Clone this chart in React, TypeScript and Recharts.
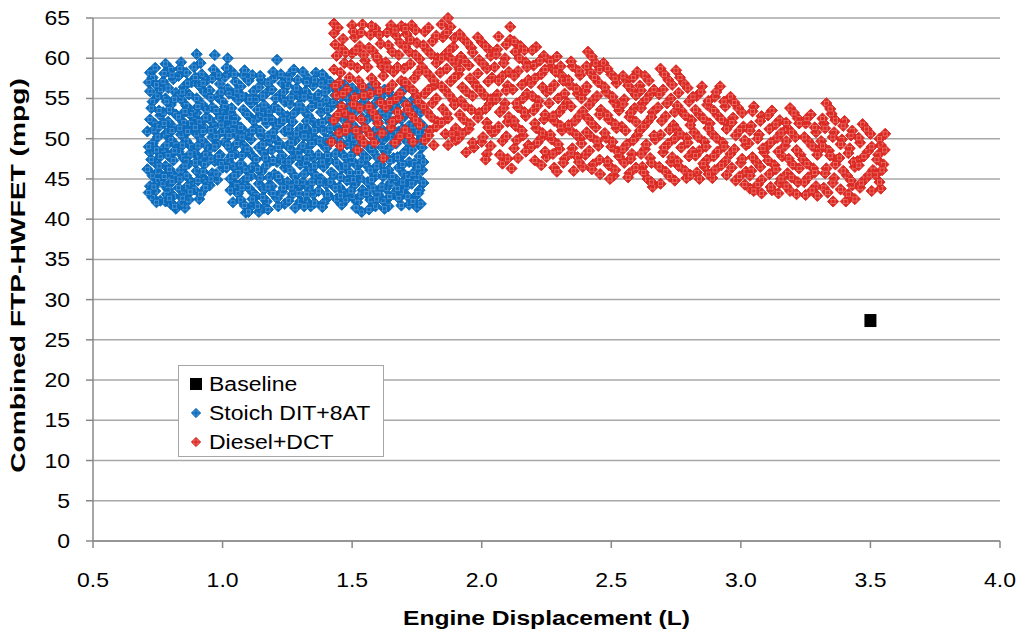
import React from 'react';
import { ScatterChart, Scatter, XAxis, YAxis, CartesianGrid } from 'recharts';

const xTicks = [0.5, 1.0, 1.5, 2.0, 2.5, 3.0, 3.5, 4.0];
const yTicks = [0, 5, 10, 15, 20, 25, 30, 35, 40, 45, 50, 55, 60, 65];

const baselinePoints: [number, number][] = [[3.5, 27.4]];

const stoichPointsA: [number, number][] = [
  [0.72,58.2],[0.73,57.6],[0.74,58.8],[0.72,55.9],[0.75,55.3],[0.73,54.6],[0.76,56.1],[0.72,52.4],[0.74,51.8],[0.71,50.9],[0.75,50.2],[0.73,49.4],[0.72,48.3],[0.76,47.8],[0.74,47.0],[0.71,46.2],[0.73,45.4],[0.75,44.8],[0.72,44.1],[0.74,43.5],[0.73,42.7],[0.76,42.3],[0.75,45.9],[0.76,52.9],
  [0.78,59.3],[0.8,58.6],[0.77,57.1],[0.81,57.4],[0.79,56.3],[0.82,55.7],[0.78,55.0],[0.8,54.2],[0.77,53.3],[0.82,53.0],[0.79,52.1],[0.81,51.4],[0.78,50.6],[0.8,49.9],[0.82,49.2],[0.77,48.7],[0.79,47.9],[0.81,47.3],[0.78,46.6],[0.8,45.8],[0.82,45.2],[0.77,44.4],[0.79,43.7],[0.81,42.9],[0.78,42.2],[0.82,41.3],[0.8,41.9],[0.79,50.8],
  [0.84,59.5],[0.86,58.2],[0.83,57.8],[0.88,57.0],[0.85,56.4],[0.87,55.5],[0.84,54.9],[0.86,54.1],[0.88,53.4],[0.83,52.7],[0.85,52.0],[0.87,51.2],[0.84,50.5],[0.86,49.7],[0.88,49.0],[0.83,48.4],[0.85,47.6],[0.87,46.9],[0.84,46.1],[0.86,45.4],[0.88,44.6],[0.83,43.9],[0.85,43.1],[0.87,42.4],[0.855,41.4],[0.84,41.9],[0.88,51.9],[0.86,47.2],
  [0.9,60.5],[0.89,58.9],[0.92,58.0],[0.94,57.3],[0.91,56.6],[0.93,55.8],[0.9,55.0],[0.92,54.3],[0.94,53.6],[0.89,52.8],[0.91,52.1],[0.93,51.3],[0.9,50.6],[0.92,49.8],[0.94,49.1],[0.89,48.3],[0.91,47.6],[0.93,46.8],[0.9,46.0],[0.92,45.3],[0.94,44.5],[0.91,42.5],[0.89,43.7],[0.93,47.9],[0.9,53.2],
  [0.97,60.4],[0.96,57.5],[0.99,56.8],[0.95,56.0],[0.98,55.2],[1.0,54.6],[0.96,53.9],[0.99,53.1],[0.95,52.4],[0.97,51.6],[1.0,50.9],[0.96,50.2],[0.98,49.4],[0.95,48.7],[0.99,48.0],[0.97,47.2],[1.0,46.4],[0.96,45.7],[0.98,44.9],[0.95,44.2],[0.99,52.6],[0.97,49.0],
  [1.02,60.0],[1.03,58.5],[1.01,57.7],[1.05,57.1],[1.02,56.2],[1.04,55.5],[1.06,54.8],[1.01,54.0],[1.03,53.3],[1.05,52.5],[1.02,51.8],[1.04,51.0],[1.06,50.3],[1.01,49.6],[1.03,48.8],[1.05,48.1],[1.02,47.3],[1.04,46.6],[1.06,45.8],[1.03,45.0],[1.05,44.3],[1.06,43.2],[1.04,42.1],[1.02,49.2],
  [1.08,57.9],[1.1,57.2],[1.07,56.5],[1.12,55.9],[1.09,55.1],[1.11,54.4],[1.08,53.6],[1.1,52.9],[1.12,52.2],[1.07,51.4],[1.09,50.7],[1.11,49.9],[1.08,49.2],[1.1,48.4],[1.12,47.7],[1.07,46.9],[1.09,46.2],[1.11,45.4],[1.08,44.7],[1.1,43.9],[1.12,43.2],[1.09,40.8],[1.11,41.6],[1.07,42.4],[1.1,50.5],
  [1.15,57.3],[1.14,56.4],[1.17,55.7],[1.13,54.9],[1.16,54.2],[1.18,53.4],[1.14,52.7],[1.17,51.9],[1.13,51.2],[1.15,50.4],[1.18,49.7],[1.14,48.9],[1.16,48.2],[1.13,47.4],[1.17,46.7],[1.15,45.9],[1.18,45.2],[1.14,44.4],[1.16,43.7],[1.13,42.9],[1.17,42.2],[1.14,40.9],[1.16,41.4],[1.15,53.0],
  [1.21,59.8],[1.2,57.6],[1.23,56.9],[1.19,56.1],[1.22,55.4],[1.24,54.6],[1.2,53.9],[1.23,53.1],[1.19,52.4],[1.21,51.6],[1.24,50.9],[1.2,50.1],[1.22,49.4],[1.19,48.6],[1.23,47.9],[1.21,47.1],[1.24,46.4],[1.2,45.6],[1.22,44.9],[1.19,44.1],[1.23,43.4],[1.21,42.6],[1.24,41.9],[1.22,52.0],
  [1.26,58.0],[1.29,57.3],[1.25,56.6],[1.28,55.8],[1.3,55.1],[1.26,54.3],[1.29,53.6],[1.25,52.8],[1.27,52.1],[1.3,51.3],[1.26,50.6],[1.28,49.8],[1.25,49.1],[1.29,48.3],[1.27,47.6],[1.3,46.8],[1.26,46.1],[1.28,45.3],[1.25,44.6],[1.29,43.8],[1.27,43.1],[1.28,41.4],[1.3,42.2],[1.26,48.8],
  [1.31,58.3],[1.36,58.2],[1.33,57.5],[1.35,56.6],[1.32,55.9],[1.34,55.1],[1.36,54.4],[1.31,53.6],[1.33,52.9],[1.35,52.1],[1.32,51.4],[1.34,50.6],[1.36,49.9],[1.31,49.1],[1.33,48.4],[1.35,47.6],[1.32,46.9],[1.34,46.1],[1.36,45.4],[1.31,44.6],[1.33,43.9],[1.35,43.1],[1.32,42.4],[1.34,41.6],[1.33,50.2],
  [1.39,57.8],[1.38,56.9],[1.41,56.3],[1.37,55.5],[1.4,54.8],[1.42,54.0],[1.38,53.3],[1.41,52.5],[1.37,51.8],[1.39,51.0],[1.42,50.3],[1.38,49.5],[1.4,48.8],[1.37,48.0],[1.41,47.3],[1.39,46.5],[1.42,45.8],[1.38,45.0],[1.4,44.3],[1.37,43.5],[1.41,42.8],[1.39,42.0],[1.4,49.9],
  [1.47,56.7],[1.44,56.0],[1.46,55.2],[1.43,54.5],[1.48,53.8],[1.45,53.0],[1.47,52.3],[1.44,51.5],[1.46,50.8],[1.43,50.0],[1.48,49.3],[1.45,48.5],[1.47,47.8],[1.44,47.0],[1.46,46.3],[1.43,45.5],[1.48,44.8],[1.45,44.0],[1.47,43.3],[1.44,42.5],[1.46,41.8],[1.45,51.0],
  [1.5,56.3],[1.52,55.6],[1.49,54.8],[1.53,54.1],[1.51,53.3],[1.54,52.6],[1.5,51.8],[1.52,51.1],[1.49,50.3],[1.53,49.6],[1.51,48.8],[1.54,48.1],[1.5,47.3],[1.52,46.6],[1.49,45.8],[1.53,45.1],[1.51,44.3],[1.54,43.6],[1.5,42.8],[1.52,42.1],[1.537,40.9],[1.51,49.7],
  [1.57,55.9],[1.55,55.0],[1.59,54.4],[1.56,53.6],[1.58,52.9],[1.6,52.1],[1.55,51.4],[1.57,50.6],[1.59,49.9],[1.56,49.1],[1.58,48.4],[1.6,47.6],[1.55,46.9],[1.57,46.1],[1.59,45.4],[1.56,44.6],[1.58,43.9],[1.6,43.1],[1.57,42.4],[1.59,41.6],[1.58,50.3],
  [1.61,55.2],[1.64,55.8],[1.62,54.3],[1.65,53.6],[1.63,52.8],[1.66,52.1],[1.61,51.3],[1.64,50.6],[1.62,49.8],[1.65,49.1],[1.63,48.3],[1.66,47.6],[1.61,46.8],[1.64,46.1],[1.62,45.3],[1.65,44.6],[1.63,43.8],[1.66,43.1],[1.62,42.3],[1.64,41.6],[1.63,50.4],
  [1.68,55.5],[1.7,54.6],[1.67,53.9],[1.71,53.1],[1.69,52.4],[1.72,51.6],[1.68,50.9],[1.7,50.1],[1.67,49.4],[1.71,48.6],[1.69,47.9],[1.72,47.1],[1.68,46.4],[1.7,45.6],[1.67,44.9],[1.71,44.1],[1.69,43.4],[1.72,41.8],[1.68,42.6],[1.7,48.2],
  [1.74,55.0],[1.75,53.8],[1.73,52.9],[1.76,52.0],[1.74,51.2],[1.77,50.3],[1.75,49.5],[1.73,48.6],[1.76,47.8],[1.74,46.9],[1.77,46.1],[1.75,45.2],[1.73,44.4],[1.76,43.6],[1.74,42.7],[1.75,41.5],[1.77,48.9],
];

const stoichPointsB: [number, number][] = [
  [0.715,57.0],[0.745,56.7],[0.725,53.8],[0.755,53.5],[0.735,51.1],[0.715,49.0],[0.745,48.6],[0.725,47.4],[0.755,46.6],[0.735,44.0],[0.715,43.3],[0.745,42.1],[0.755,51.5],
  [0.775,58.1],[0.805,57.9],[0.785,54.6],[0.815,54.9],[0.795,53.6],[0.775,51.9],[0.805,51.0],[0.785,49.2],[0.815,48.5],[0.795,46.2],[0.775,45.3],[0.805,44.7],[0.785,43.1],[0.815,41.6],[0.795,42.6],
  [0.835,58.7],[0.865,56.9],[0.845,55.8],[0.875,53.0],[0.855,53.4],[0.835,51.3],[0.865,50.9],[0.845,49.2],[0.875,48.1],[0.855,46.6],[0.835,45.0],[0.865,44.1],[0.845,42.6],[0.875,43.4],
  [0.915,59.4],[0.895,57.6],[0.925,56.9],[0.905,54.0],[0.935,52.6],[0.895,51.4],[0.925,50.9],[0.905,49.1],[0.935,48.0],[0.895,47.0],[0.925,45.9],[0.905,44.8],[0.935,43.9],[0.915,43.1],
  [0.965,58.6],[0.985,57.9],[0.955,55.1],[0.995,55.8],[0.975,53.5],[0.955,51.0],[0.995,51.7],[0.975,50.3],[0.955,47.5],[0.995,46.9],[0.975,45.6],[0.955,45.0],[0.985,47.8],
  [1.015,58.8],[1.045,58.0],[1.025,55.6],[1.055,55.9],[1.035,53.8],[1.015,52.6],[1.045,52.0],[1.025,50.4],[1.055,49.4],[1.035,47.9],[1.015,46.4],[1.045,45.4],[1.055,44.2],[1.03,43.6],
  [1.085,58.5],[1.115,57.9],[1.075,55.3],[1.105,54.9],[1.095,53.0],[1.075,50.2],[1.115,51.0],[1.095,48.7],[1.075,47.9],[1.115,46.5],[1.095,45.1],[1.075,43.9],[1.115,42.5],[1.085,41.7],[1.1,40.9],
  [1.145,57.8],[1.175,56.9],[1.155,55.3],[1.135,53.6],[1.165,52.4],[1.145,51.0],[1.175,50.3],[1.155,49.3],[1.135,46.2],[1.165,47.6],[1.145,45.1],[1.175,44.0],[1.155,42.7],[1.135,41.6],[1.175,41.2],
  [1.195,58.3],[1.225,58.0],[1.205,55.0],[1.235,55.8],[1.215,53.6],[1.195,50.8],[1.235,52.3],[1.215,48.9],[1.195,47.3],[1.235,47.1],[1.215,45.3],[1.195,43.2],[1.235,43.9],[1.215,41.6],
  [1.275,58.6],[1.255,57.4],[1.285,56.3],[1.265,55.1],[1.295,54.2],[1.275,53.1],[1.255,51.2],[1.285,50.6],[1.265,49.5],[1.295,47.7],[1.255,47.1],[1.285,44.6],[1.265,44.0],[1.295,43.2],[1.255,42.3],
  [1.325,57.0],[1.355,57.3],[1.315,55.2],[1.345,54.0],[1.325,52.2],[1.355,51.0],[1.315,50.3],[1.345,49.4],[1.325,47.5],[1.355,46.6],[1.315,45.6],[1.345,44.6],[1.325,43.1],[1.355,42.0],[1.315,41.6],
  [1.385,58.0],[1.415,57.1],[1.395,55.8],[1.375,54.2],[1.405,53.6],[1.385,52.0],[1.415,51.3],[1.375,49.7],[1.405,47.9],[1.385,47.1],[1.415,44.6],[1.375,44.6],[1.405,43.1],[1.385,41.5],
  [1.455,56.8],[1.435,55.4],[1.475,55.3],[1.455,54.1],[1.435,52.6],[1.475,51.1],[1.455,49.6],[1.435,48.1],[1.475,46.6],[1.455,45.2],[1.435,43.9],[1.475,42.4],[1.455,42.9],
  [1.505,55.4],[1.535,56.0],[1.515,54.2],[1.495,52.6],[1.525,50.9],[1.505,50.1],[1.535,47.1],[1.495,47.9],[1.525,45.8],[1.505,44.9],[1.535,43.0],[1.495,43.5],[1.515,41.4],
  [1.565,56.3],[1.595,55.5],[1.575,53.9],[1.555,52.3],[1.595,51.2],[1.575,48.9],[1.555,47.6],[1.595,46.6],[1.575,44.9],[1.555,43.2],[1.595,42.5],[1.565,41.2],
  [1.625,56.1],[1.655,54.9],[1.615,53.4],[1.645,52.0],[1.625,50.7],[1.655,50.2],[1.615,48.9],[1.645,47.3],[1.625,45.9],[1.655,45.3],[1.615,44.0],[1.645,42.8],[1.625,41.3],
  [1.695,56.0],[1.675,54.7],[1.715,54.2],[1.695,51.2],[1.675,50.6],[1.715,49.6],[1.695,46.8],[1.675,47.7],[1.715,45.3],[1.695,44.6],[1.675,43.8],[1.715,42.8],[1.69,41.7],
  [1.745,54.5],[1.765,53.3],[1.735,51.6],[1.775,51.5],[1.755,50.8],[1.735,49.6],[1.775,47.1],[1.755,46.5],[1.735,45.7],[1.775,44.5],[1.755,43.2],[1.735,42.2],[1.765,41.9],
];

const dieselPointsA: [number, number][] = [
  [1.43,64.3],[1.43,63.1],[1.46,61.2],[1.44,60.3],[1.47,59.4],[1.43,58.6],[1.45,57.0],[1.48,56.1],[1.44,55.4],[1.46,54.0],[1.43,52.3],[1.47,53.2],[1.45,50.7],[1.42,49.6],[1.48,51.6],
  [1.5,64.1],[1.54,64.2],[1.51,62.6],[1.53,61.5],[1.5,60.6],[1.55,59.7],[1.52,58.8],[1.49,57.6],[1.54,56.5],[1.51,55.1],[1.53,53.8],[1.5,52.6],[1.55,51.3],[1.53,50.2],[1.52,48.6],
  [1.59,63.7],[1.57,62.9],[1.61,61.8],[1.58,60.9],[1.6,59.8],[1.56,58.9],[1.62,57.8],[1.59,56.8],[1.57,55.6],[1.61,54.5],[1.58,53.3],[1.6,51.9],[1.57,50.5],[1.62,47.6],
  [1.65,64.1],[1.69,64.0],[1.67,62.8],[1.64,61.6],[1.68,60.4],[1.63,59.5],[1.66,58.3],[1.69,57.2],[1.64,56.1],[1.67,55.0],[1.63,53.9],[1.68,52.6],[1.65,51.4],[1.665,49.5],
  [1.73,64.1],[1.71,63.0],[1.75,61.9],[1.72,60.8],[1.76,59.9],[1.7,58.7],[1.74,57.5],[1.72,56.4],[1.75,55.3],[1.71,54.2],[1.73,53.0],[1.76,51.7],[1.72,50.4],
  [1.78,63.3],[1.81,62.1],[1.79,61.0],[1.83,60.0],[1.77,58.9],[1.8,57.8],[1.82,56.7],[1.78,55.6],[1.81,54.4],[1.79,53.3],[1.83,52.1],[1.8,51.0],[1.78,49.8],
  [1.87,65.0],[1.88,63.9],[1.85,62.6],[1.89,61.4],[1.86,60.5],[1.9,59.3],[1.84,58.2],[1.88,57.1],[1.86,56.0],[1.89,54.8],[1.85,53.7],[1.87,52.5],[1.9,51.3],[1.9,49.8],[1.86,50.6],
  [1.93,62.4],[1.96,61.3],[1.92,60.2],[1.95,59.1],[1.91,58.0],[1.97,57.0],[1.94,55.9],[1.92,54.7],[1.96,53.6],[1.93,52.4],[1.95,51.2],[1.91,50.0],[1.97,48.9],
  [2.0,62.0],[2.03,61.0],[1.99,59.8],[2.02,58.7],[2.04,57.6],[1.98,56.5],[2.01,55.4],[2.03,54.3],[1.99,53.2],[2.02,52.0],[2.04,50.8],[2.0,49.6],[2.02,48.1],
  [2.11,63.9],[2.11,62.3],[2.06,61.1],[2.09,60.0],[2.05,58.9],[2.08,57.8],[2.1,56.6],[2.06,55.5],[2.09,54.4],[2.07,53.3],[2.1,52.1],[2.05,50.9],[2.08,49.7],[2.08,46.9],[2.115,46.3],
  [2.15,61.5],[2.13,60.8],[2.17,59.5],[2.14,58.4],[2.18,57.3],[2.12,56.1],[2.16,55.0],[2.14,53.9],[2.17,52.8],[2.13,51.6],[2.16,50.4],[2.18,49.2],[2.14,47.6],
  [2.21,61.4],[2.24,60.3],[2.2,59.1],[2.23,58.0],[2.19,56.9],[2.25,55.8],[2.22,54.7],[2.2,53.5],[2.24,52.4],[2.21,51.3],[2.23,50.1],[2.19,48.9],[2.25,47.7],
  [2.29,60.2],[2.27,58.9],[2.31,57.8],[2.28,56.7],[2.32,55.6],[2.26,54.4],[2.3,53.3],[2.28,52.2],[2.31,51.0],[2.27,49.9],[2.3,48.7],[2.32,47.5],[2.28,46.4],
  [2.35,59.0],[2.38,57.9],[2.34,56.7],[2.37,55.6],[2.33,54.5],[2.39,53.4],[2.36,52.2],[2.34,51.1],[2.38,50.0],[2.35,48.8],[2.37,47.7],[2.39,46.5],
  [2.41,60.8],[2.44,59.4],[2.42,58.2],[2.45,57.0],[2.4,55.9],[2.43,54.8],[2.46,53.6],[2.41,52.5],[2.44,51.4],[2.42,50.3],[2.45,49.1],[2.4,48.0],[2.43,46.8],[2.457,45.6],
  [2.47,59.4],[2.5,58.0],[2.52,56.9],[2.48,55.8],[2.51,54.6],[2.53,53.5],[2.49,52.4],[2.52,51.3],[2.48,50.1],[2.5,49.0],[2.53,47.8],[2.49,46.7],[2.51,45.4],
  [2.6,58.3],[2.56,57.2],[2.58,56.0],[2.55,54.9],[2.59,53.8],[2.57,52.7],[2.54,51.5],[2.6,50.4],[2.56,49.3],[2.58,48.1],[2.55,47.0],[2.57,45.7],
  [2.63,57.8],[2.61,56.6],[2.65,55.5],[2.62,54.4],[2.66,53.3],[2.64,52.1],[2.61,51.0],[2.67,49.9],[2.63,48.7],[2.65,47.6],[2.62,46.5],[2.64,45.0],[2.66,44.0],
  [2.69,58.7],[2.72,57.3],[2.7,56.1],[2.73,55.0],[2.68,53.9],[2.71,52.8],[2.74,51.7],[2.69,50.5],[2.72,49.4],[2.7,48.3],[2.73,47.1],[2.71,45.9],[2.69,44.4],
  [2.75,58.5],[2.78,56.9],[2.76,55.7],[2.8,54.6],[2.77,53.5],[2.81,52.3],[2.75,51.2],[2.79,50.1],[2.77,48.9],[2.8,47.8],[2.76,46.6],[2.79,45.1],
  [2.85,56.5],[2.83,55.3],[2.87,54.2],[2.84,53.0],[2.88,51.9],[2.82,50.8],[2.86,49.6],[2.84,48.5],[2.87,47.4],[2.86,46.5],[2.83,45.8],
  [2.92,56.5],[2.9,55.2],[2.94,54.0],[2.91,52.9],[2.95,51.8],[2.89,50.6],[2.93,49.5],[2.91,48.4],[2.94,47.2],[2.9,46.1],[2.89,45.1],
  [2.96,55.2],[2.99,53.8],[2.97,52.6],[3.01,51.5],[2.98,50.4],[3.02,49.2],[2.96,48.1],[3.0,47.0],[3.02,45.9],[2.98,44.8],
  [3.05,54.0],[3.08,52.8],[3.04,51.6],[3.07,50.5],[3.03,49.4],[3.09,48.3],[3.06,47.1],[3.04,46.0],[3.08,44.9],[3.035,43.8],[3.08,43.2],
  [3.12,53.5],[3.15,52.3],[3.11,51.2],[3.14,50.1],[3.1,49.0],[3.16,47.8],[3.13,46.7],[3.11,45.6],[3.15,44.5],[3.12,43.6],
  [3.19,53.8],[3.22,52.5],[3.18,51.3],[3.21,50.2],[3.17,49.1],[3.23,48.0],[3.2,46.8],[3.18,45.7],[3.22,44.6],[3.19,43.5],
  [3.27,53.0],[3.25,51.9],[3.29,50.8],[3.26,49.7],[3.3,48.5],[3.24,47.4],[3.28,46.3],[3.26,45.2],[3.29,44.1],[3.25,43.0],
  [3.33,54.4],[3.35,53.1],[3.32,51.9],[3.36,50.8],[3.31,49.7],[3.34,48.5],[3.37,47.4],[3.33,46.3],[3.36,45.1],[3.32,43.9],[3.356,42.2],
  [3.4,52.2],[3.43,51.0],[3.39,49.9],[3.42,48.8],[3.38,47.6],[3.44,46.5],[3.41,45.4],[3.43,44.2],[3.405,42.2],
  [3.47,51.8],[3.5,50.6],[3.46,49.5],[3.49,48.4],[3.45,47.2],[3.51,46.1],[3.48,45.0],[3.46,43.9],
  [3.557,50.6],[3.54,49.2],[3.53,48.0],[3.55,46.8],[3.52,45.5],[3.54,43.8],
];

const dieselPointsB: [number, number][] = [
  [1.445,63.8],[1.465,62.4],[1.435,61.7],[1.475,60.7],[1.455,58.2],[1.435,56.6],[1.465,55.6],[1.445,53.0],[1.475,51.0],[1.455,49.1],
  [1.505,63.3],[1.535,63.2],[1.515,61.0],[1.545,60.4],[1.495,59.2],[1.525,57.2],[1.545,55.4],[1.505,54.3],[1.535,52.4],[1.515,51.0],[1.545,49.5],
  [1.575,64.0],[1.605,62.9],[1.565,61.3],[1.595,60.2],[1.615,59.0],[1.575,57.5],[1.605,55.9],[1.565,54.0],[1.595,52.6],[1.615,50.7],[1.585,49.5],
  [1.635,63.2],[1.665,63.5],[1.685,61.9],[1.655,60.8],[1.635,58.9],[1.675,58.9],[1.655,56.7],[1.685,55.6],[1.645,54.5],[1.675,53.3],[1.655,52.1],[1.685,50.3],
  [1.705,63.7],[1.745,63.5],[1.725,62.3],[1.705,61.4],[1.745,60.4],[1.725,59.3],[1.755,58.2],[1.705,57.0],[1.735,56.0],[1.755,54.6],[1.715,53.6],[1.745,52.3],[1.705,51.1],[1.735,49.6],
  [1.795,63.8],[1.825,62.8],[1.775,61.6],[1.805,60.5],[1.825,59.4],[1.785,58.3],[1.815,57.2],[1.795,56.1],[1.825,55.0],[1.775,54.0],[1.805,52.7],[1.825,51.5],[1.795,50.4],[1.815,49.2],
  [1.845,64.2],[1.865,63.2],[1.895,62.5],[1.875,61.0],[1.845,60.0],[1.885,59.8],[1.865,58.7],[1.895,57.6],[1.845,56.5],[1.875,55.4],[1.895,54.2],[1.865,53.1],[1.845,52.0],[1.885,50.6],[1.87,49.2],
  [1.915,63.0],[1.945,61.9],[1.965,60.7],[1.935,59.6],[1.915,58.6],[1.955,57.5],[1.925,56.4],[1.965,55.3],[1.935,54.1],[1.915,53.0],[1.955,51.8],[1.925,50.6],[1.965,49.5],[1.94,48.3],
  [1.985,62.6],[2.015,61.5],[2.035,60.3],[2.005,59.3],[1.985,58.1],[2.025,57.1],[1.995,56.0],[2.035,54.9],[2.015,53.7],[1.985,52.6],[2.025,51.4],[2.005,50.2],[2.035,49.1],[2.015,47.4],
  [2.065,62.7],[2.095,61.7],[2.055,60.5],[2.085,59.4],[2.105,58.3],[2.065,57.2],[2.095,56.0],[2.055,54.9],[2.085,53.8],[2.105,52.7],[2.065,51.5],[2.095,50.3],[2.07,48.0],[2.1,47.5],
  [2.125,62.1],[2.165,61.0],[2.145,60.0],[2.175,58.9],[2.125,57.8],[2.155,56.7],[2.175,55.6],[2.135,54.4],[2.165,53.3],[2.125,52.2],[2.155,51.0],[2.135,49.8],[2.17,48.4],[2.125,48.8],
  [2.195,61.0],[2.225,59.7],[2.245,58.6],[2.205,57.5],[2.235,56.4],[2.195,55.3],[2.215,54.1],[2.245,53.0],[2.205,51.9],[2.235,50.7],[2.215,49.5],[2.245,48.4],[2.205,47.3],[2.23,46.7],
  [2.265,59.6],[2.305,59.0],[2.285,58.3],[2.315,57.2],[2.265,56.1],[2.295,55.0],[2.315,53.9],[2.275,52.8],[2.305,51.6],[2.265,50.5],[2.295,49.3],[2.275,48.1],[2.315,47.0],[2.29,45.9],
  [2.345,59.6],[2.375,58.4],[2.335,57.3],[2.365,56.2],[2.385,55.0],[2.345,54.0],[2.375,52.8],[2.335,51.7],[2.365,50.5],[2.385,49.4],[2.345,48.2],[2.375,47.1],[2.355,46.0],
  [2.425,60.2],[2.405,59.0],[2.455,58.6],[2.435,57.6],[2.405,56.5],[2.445,55.3],[2.415,54.2],[2.455,53.0],[2.425,51.9],[2.405,50.8],[2.445,49.7],[2.415,48.5],[2.455,47.4],[2.425,46.2],
  [2.485,58.7],[2.515,57.5],[2.475,56.4],[2.505,55.2],[2.525,54.0],[2.485,52.9],[2.515,51.8],[2.475,50.7],[2.505,49.6],[2.525,48.4],[2.485,47.2],[2.515,46.1],[2.495,45.0],
  [2.545,57.8],[2.585,57.6],[2.565,56.6],[2.595,55.4],[2.545,54.3],[2.575,53.2],[2.595,52.1],[2.555,51.0],[2.585,49.8],[2.545,48.7],[2.575,47.5],[2.595,46.4],[2.565,45.2],
  [2.645,57.2],[2.615,56.0],[2.665,56.1],[2.635,54.9],[2.615,53.8],[2.655,52.7],[2.625,51.5],[2.665,50.4],[2.635,49.3],[2.615,48.1],[2.655,47.0],[2.625,45.8],[2.655,44.6],
  [2.705,58.0],[2.735,56.7],[2.685,55.5],[2.715,54.4],[2.745,53.3],[2.695,52.2],[2.725,51.1],[2.745,50.0],[2.705,48.9],[2.735,47.7],[2.685,46.5],[2.725,45.3],[2.745,44.8],
  [2.765,57.6],[2.795,56.3],[2.815,55.2],[2.755,54.1],[2.785,52.9],[2.805,51.7],[2.765,50.6],[2.795,49.5],[2.815,48.4],[2.755,47.2],[2.785,46.0],[2.805,45.5],
  [2.845,55.8],[2.875,54.7],[2.825,53.6],[2.855,52.5],[2.875,51.3],[2.835,50.2],[2.865,49.0],[2.825,47.9],[2.855,46.9],[2.875,45.6],[2.84,45.0],
  [2.905,55.8],[2.935,54.6],[2.895,53.5],[2.925,52.4],[2.945,51.2],[2.905,50.1],[2.935,49.0],[2.895,47.8],[2.925,46.7],[2.945,45.5],
  [2.975,54.5],[3.005,53.2],[2.965,52.0],[2.995,51.0],[3.015,49.8],[2.975,48.7],[3.005,47.5],[2.965,46.4],[2.995,45.3],[3.015,44.3],
  [3.045,53.4],[3.075,52.2],[3.035,51.0],[3.065,50.0],[3.085,48.8],[3.045,47.7],[3.075,46.5],[3.035,45.4],[3.065,44.3],[3.05,43.5],
  [3.105,52.9],[3.135,51.8],[3.155,50.7],[3.115,49.5],[3.145,48.4],[3.105,47.3],[3.135,46.2],[3.155,45.0],[3.115,44.0],[3.145,43.2],
  [3.205,53.2],[3.175,52.0],[3.225,51.9],[3.195,50.8],[3.175,49.7],[3.215,48.6],[3.185,47.5],[3.225,46.3],[3.195,45.2],[3.175,44.1],[3.215,43.1],
  [3.255,52.5],[3.285,51.4],[3.245,50.2],[3.275,49.1],[3.295,48.0],[3.255,46.9],[3.285,45.8],[3.245,44.6],[3.275,43.6],[3.295,42.9],
  [3.345,53.7],[3.315,52.5],[3.365,52.3],[3.325,51.3],[3.355,50.2],[3.315,49.1],[3.345,47.9],[3.365,46.8],[3.325,45.7],[3.355,44.5],[3.335,43.3],
  [3.395,51.6],[3.425,50.4],[3.385,49.3],[3.415,48.2],[3.435,47.1],[3.395,46.0],[3.425,44.8],[3.385,43.7],[3.415,43.1],[3.44,42.5],
  [3.485,51.2],[3.455,50.1],[3.505,49.0],[3.475,47.8],[3.455,46.7],[3.495,45.5],[3.465,44.5],[3.505,43.5],
  [3.535,50.0],[3.555,48.6],[3.525,47.4],[3.545,46.1],[3.535,44.6],
];

const toRows = (pts: [number, number][]) => pts.map(([x, y]) => ({ x, y }));
const stoichRows = toRows([...stoichPointsA, ...stoichPointsB]);
const dieselRows = toRows([...dieselPointsA, ...dieselPointsB]);
const baselineRows = toRows(baselinePoints);

const BLUE = '#0B6CBC';
const BLUE_LIGHT = '#5C9AD6';
const RED = '#DB2A23';
const RED_LIGHT = '#EE7D77';
const FONT = "'Liberation Sans', Arial, Helvetica, sans-serif";
const SX = 1.15;

function Diamond(props: any) {
  const { cx, cy, fill, light, r = 5.6 } = props;
  if (cx == null || cy == null) return null;
  const pts = `${cx},${cy - r} ${cx + r},${cy} ${cx},${cy + r} ${cx - r},${cy}`;
  const d = `M${cx - 2} ${cy - 2.6}V${cy + 2.6}M${cx + 2} ${cy - 2.6}V${cy + 2.6}M${cx - 2.6} ${cy - 2}H${cx + 2.6}M${cx - 2.6} ${cy + 2}H${cx + 2.6}`;
  return (
    <g>
      <polygon points={pts} fill={fill} stroke={fill} strokeWidth={1} />
      <path d={d} stroke={light} strokeWidth={0.7} fill="none" />
    </g>
  );
}

function Square(props: any) {
  const { cx, cy } = props;
  if (cx == null || cy == null) return null;
  return <rect x={cx - 6} y={cy - 6.5} width={12} height={13} fill="#000" />;
}

function SText(props: any) {
  const { x, y, anchor = 'middle', size = 20, bold = false, rotate = false, sx = SX, children } = props;
  const t = `translate(${x},${y})${rotate ? ' rotate(-90)' : ''} scale(${sx},1)`;
  return (
    <text transform={t} textAnchor={anchor} fontFamily={FONT} fontSize={size} fontWeight={bold ? 'bold' : 'normal'} fill="#000">
      {children}
    </text>
  );
}

const XTick = (props: any) => {
  const { x, y, payload } = props;
  return <SText x={x} y={y + 37} anchor="middle">{Number(payload.value).toFixed(1)}</SText>;
};

const YTick = (props: any) => {
  const { x, y, payload } = props;
  return <SText x={x - 14} y={y + 7} anchor="end">{String(payload.value)}</SText>;
};

const XTitle = (props: any) => {
  const vb = props.viewBox || {};
  return <SText x={vb.x + vb.width / 2} y={vb.y + 84} anchor="middle" bold sx={1.23}>Engine Displacement (L)</SText>;
};

const YTitle = (props: any) => {
  const vb = props.viewBox || {};
  return <SText x={25} y={vb.y + vb.height / 2 - 4} anchor="middle" bold rotate sx={1.41}>Combined FTP-HWFET (mpg)</SText>;
};

const legendItems = [
  { name: 'Baseline', kind: 'square' },
  { name: 'Stoich DIT+8AT', kind: 'blue' },
  { name: 'Diesel+DCT', kind: 'red' },
];

const LegendBox = () => (
  <div
    style={{
      position: 'absolute',
      left: 178,
      top: 365,
      width: 206,
      height: 92,
      boxSizing: 'border-box',
      border: '1px solid #A6A6A6',
      background: '#fff',
      fontFamily: FONT,
      fontSize: 20,
      color: '#000',
      paddingTop: 3,
    }}
  >
    {legendItems.map((it) => (
      <div key={it.name} style={{ height: 29, display: 'flex', alignItems: 'center' }}>
        <svg width={30} height={20} style={{ flex: 'none' }}>
          {it.kind === 'square' ? (
            <rect x={11} y={4} width={12} height={12} fill="#000" />
          ) : (
            <Diamond cx={17} cy={10} r={4.6} fill={it.kind === 'blue' ? BLUE : RED} light={it.kind === 'blue' ? BLUE_LIGHT : RED_LIGHT} />
          )}
        </svg>
        <span style={{ display: 'inline-block', transform: `scaleX(${SX})`, transformOrigin: 'left center', whiteSpace: 'nowrap', lineHeight: '20px' }}>
          {it.name}
        </span>
      </div>
    ))}
  </div>
);

export default function App() {
  return (
    <div style={{ position: 'absolute', left: 0, top: 0, width: 1020, height: 630, background: '#fff' }}>
      <ScatterChart width={1020} height={630} margin={{ top: 18, right: 20, bottom: 29, left: 13 }}>
        <CartesianGrid vertical={false} stroke="#A8A8A8" strokeWidth={1.5} yAxisId="left" />
        <XAxis
          type="number"
          dataKey="x"
          xAxisId="bottom"
          domain={[0.5, 4]}
          ticks={xTicks}
          interval={0}
          height={60}
          tickSize={7}
          axisLine={{ stroke: '#888', strokeWidth: 1.5 }}
          tickLine={{ stroke: '#888', strokeWidth: 1.5 }}
          tick={<XTick />}
          label={{ content: <XTitle /> }}
        />
        <XAxis
          type="number"
          dataKey="x"
          xAxisId="top"
          orientation="top"
          domain={[0.5, 4]}
          height={0}
          tick={false}
          tickLine={false}
          axisLine={{ stroke: '#888', strokeWidth: 1.5 }}
        />
        <YAxis
          type="number"
          dataKey="y"
          yAxisId="left"
          domain={[0, 65]}
          ticks={yTicks}
          interval={0}
          width={80}
          tickSize={7}
          axisLine={{ stroke: '#888', strokeWidth: 1.5 }}
          tickLine={{ stroke: '#888', strokeWidth: 1.5 }}
          tick={<YTick />}
          label={{ content: <YTitle /> }}
        />
        <YAxis
          type="number"
          dataKey="y"
          yAxisId="right"
          orientation="right"
          domain={[0, 65]}
          width={0}
          tick={false}
          tickLine={false}
          axisLine={{ stroke: '#888', strokeWidth: 1.5 }}
        />
        <Scatter
          name="Baseline"
          data={baselineRows}
          xAxisId="bottom"
          yAxisId="left"
          fill="#000"
          shape={<Square />}
          isAnimationActive={false}
        />
        <Scatter
          name="Stoich DIT+8AT"
          data={stoichRows}
          xAxisId="bottom"
          yAxisId="left"
          fill={BLUE}
          shape={(p: any) => <Diamond cx={p.cx} cy={p.cy} fill={BLUE} light={BLUE_LIGHT} />}
          isAnimationActive={false}
        />
        <Scatter
          name="Diesel+DCT"
          data={dieselRows}
          xAxisId="bottom"
          yAxisId="left"
          fill={RED}
          shape={(p: any) => <Diamond cx={p.cx} cy={p.cy} fill={RED} light={RED_LIGHT} />}
          isAnimationActive={false}
        />
      </ScatterChart>
      <LegendBox />
    </div>
  );
}
